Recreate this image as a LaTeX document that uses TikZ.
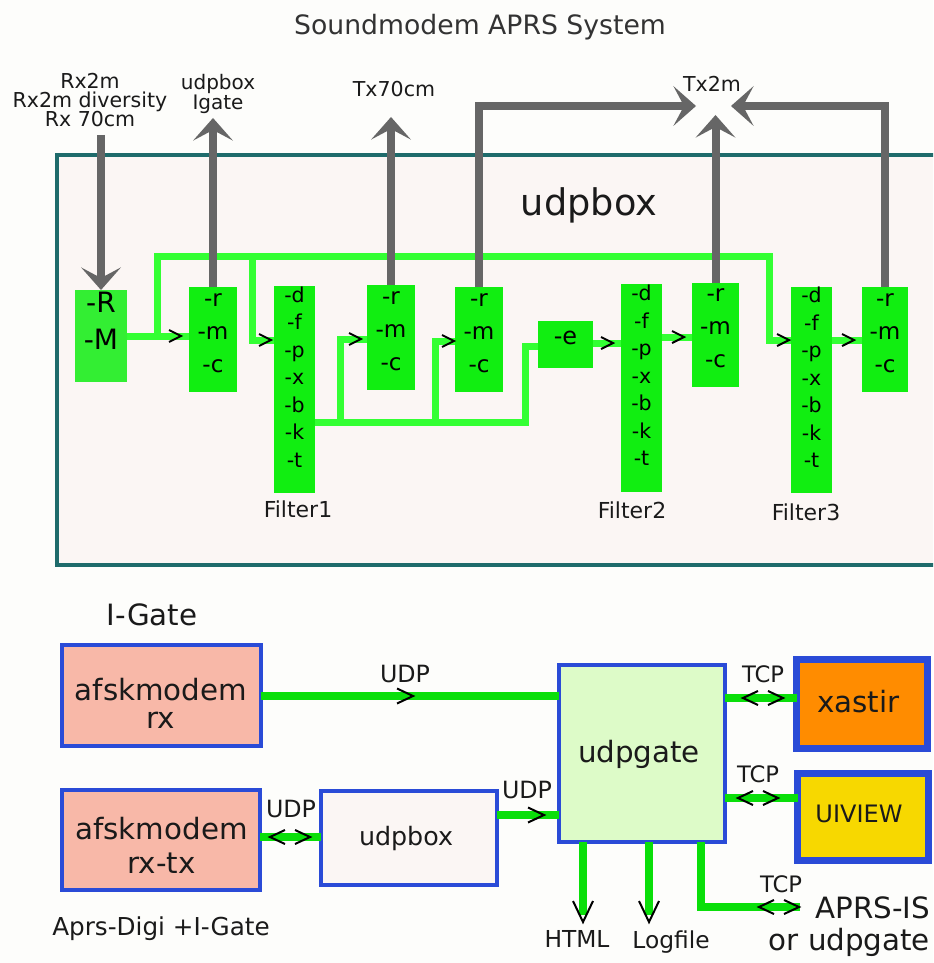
\documentclass[tikz,border=0pt]{standalone}
\usepackage{fontspec}
\setmainfont{DejaVu Sans}
\usetikzlibrary{arrows.meta,fit}
\definecolor{bgc}{HTML}{FDFDFB}
\definecolor{framefill}{HTML}{FBF6F4}
\definecolor{framedraw}{HTML}{1F6B6B}
\definecolor{lgreen}{HTML}{33FF33}
\definecolor{boxg}{HTML}{11EE11}
\definecolor{rmg}{HTML}{33EE33}
\definecolor{agray}{HTML}{666666}
\definecolor{bgreen}{HTML}{0ADF0A}
\definecolor{bblue}{HTML}{2A4BD7}
\definecolor{salmon}{HTML}{F8B8A8}
\definecolor{gatefill}{HTML}{DDFBC8}
\definecolor{xorange}{HTML}{FF8C00}
\definecolor{uiyellow}{HTML}{F7D800}
\definecolor{txt}{HTML}{1A1A1A}
\definecolor{ttl}{HTML}{333333}
\newcommand\fsz[2]{\fontsize{#1}{#2}\selectfont\lineskiplimit=-50pt\relax}
\newcommand\dn[1]{\rule[-#1]{0pt}{#1}}
\begin{document}
\begin{tikzpicture}[x=0.75pt,y=-0.75pt,
  lbl/.style={inner sep=0pt, outer sep=0pt, text=txt},
  tline/.style={draw=lgreen, line width=5.25pt, line join=miter},
  bline/.style={draw=bgreen, line width=6pt, line join=miter},
  chev/.style={draw=black, line width=1.5pt, line join=miter},
  garr/.style={draw=agray, line width=6pt, line join=miter, -{Stealth[length=17pt,width=30pt,inset=8pt,line width=0pt]}},
  gbox/.style={fill=boxg, inner sep=0pt, outer sep=0pt, align=center, text=black},
  wbox/.style={draw=bblue, line width=3.4pt, inner sep=0pt, outer sep=0pt},
  rmcbox/.style={gbox, font=\fsz{17.3}{24.75}},
  filtbox/.style={gbox, font=\fsz{15.4}{20.6}},
  chr/.pic={\draw[chev] (-6,-6) -- (6,0) -- (-6,6);},
  chrb/.pic={\draw[chev] (-8,-7.5) -- (8,0) -- (-8,7.5);},
  chlr/.pic={\draw[chev] (-5,-7) -- (-20,0) -- (-5,7); \draw[chev] (5,-7) -- (20,0) -- (5,7);},
  chv/.pic={\draw[chev] (-10,-21) -- (0,0) -- (10,-21);}
]
\fill[bgc] (0,0) rectangle (933,963);
\useasboundingbox (0,0) rectangle (933,963);

% ---------- udpbox frame ----------
\begin{scope}
\clip (0,0) rectangle (933,963);
\node[fit={(57,155) (945,565)}, draw=framedraw, fill=framefill, line width=3.4pt, inner sep=0pt, outer sep=0pt] (frame) {};
\end{scope}
\node[lbl, font=\fsz{27.5}{33}, anchor=base] (frametitle) at (589,215) {udpbox};

% ---------- top labels ----------
\node[lbl, font=\fsz{20}{24}, text=ttl, anchor=base] (title) at (480,35) {Soundmodem APRS System};
\node[lbl, font=\fsz{15.4}{13.9}, align=center] (rxlab) at (90,100) {Rx2m\\Rx2m diversity\\Rx 70cm};
\node[lbl, font=\fsz{15}{14.7}, align=center] (iglab) at (218,94) {udpbox\\Igate};
\node[lbl, font=\fsz{15.4}{18}, anchor=base] (tx70) at (394,97) {Tx70cm};
\node[lbl, font=\fsz{15.4}{18}, anchor=base] (tx2m) at (712,92) {Tx2m};

% ---------- green boxes ----------
\node[fit={(75,290) (127,382)}, gbox, fill=rmg, font=\fsz{21}{27.75}] (rm) {-R\\-M\dn{7.5pt}};
\node[fit={(189,287) (237,392)}, rmcbox] (rmc1) {-r\\-m\\-c};
\node[fit={(274,286) (315,493)}, filtbox] (f1) {-d\\-f\\-p\\-x\\-b\\-k\\-t\dn{7.2pt}};
\node[fit={(367,285) (415,390)}, rmcbox] (rmc2) {-r\\-m\\-c};
\node[fit={(455,287) (503,392)}, rmcbox] (rmc3) {-r\\-m\\-c};
\node[fit={(538,321) (593,368)}, gbox, font=\fsz{18}{21.6}] (ebox) {-e};
\node[fit={(621,284) (662,492)}, filtbox] (f2) {-d\\-f\\-p\\-x\\-b\\-k\\-t\dn{7.2pt}};
\node[fit={(692,283) (739,387)}, rmcbox] (rmc4) {-r\\-m\\-c};
\node[fit={(791,287) (832,493)}, filtbox] (f3) {-d\\-f\\-p\\-x\\-b\\-k\\-t\dn{7.2pt}};
\node[fit={(862,287) (908,392)}, rmcbox] (rmc5) {-r\\-m\\-c};

\node[lbl, font=\fsz{16.5}{20}, anchor=base] (fl1) at (298,517) {Filter1};
\node[lbl, font=\fsz{16.5}{20}, anchor=base] (fl2) at (632,518) {Filter2};
\node[lbl, font=\fsz{16.5}{20}, anchor=base] (fl3) at (806,520) {Filter3};

% ---------- green connectors (top) ----------
\coordinate (j1) at (157,256);
\coordinate (j2) at (252,256);
\coordinate (j3) at (769,256);
\coordinate (k2) at (252,340);
\coordinate (k3) at (769,340);
\coordinate (b1) at (340,422);
\coordinate (b2) at (435,422);
\coordinate (b3) at (525,422);
\coordinate (u1) at (340,339);
\coordinate (u2) at (435,341);
\coordinate (u3) at (525,346);
\coordinate (e1) at (0,343);
\coordinate (e2) at (0,337);
\coordinate (e3) at (0,340);
\draw[tline] (rm.east) -- (rm.east -| rmc1.west);
\draw[tline] (j1 |- rm.east) -- (j1) -- (j3) -- (k3) -- (k3 -| f3.west);
\draw[tline] (j2) -- (k2) -- (k2 -| f1.west);
\draw[tline] (f1.east |- b1) -- (b3) -- (u3) -- (u3 -| ebox.west);
\draw[tline] (b1) -- (u1) -- (u1 -| rmc2.west);
\draw[tline] (b2) -- (u2) -- (u2 -| rmc3.west);
\draw[tline] (ebox.east |- e1) -- (e1 -| f2.west);
\draw[tline] (f2.east |- e2) -- (e2 -| rmc4.west);
\draw[tline] (f3.east |- e3) -- (e3 -| rmc5.west);
\pic at (175,336) {chr};
\pic at (265,340) {chr};
\pic at (355,339) {chr};
\pic at (448,341) {chr};
\pic at (607,343) {chr};
\pic at (678,337) {chr};
\pic at (783,340) {chr};
\pic at (848,340) {chr};

% ---------- gray arrows ----------
\coordinate (rxtop) at (101,135);
\coordinate (t1) at (215,118);
\coordinate (t2) at (393,117);
\coordinate (t4) at (696,106);
\coordinate (t5) at (713,115);
\coordinate (t6) at (731,106);
\draw[garr] (rxtop) -- (rm.north);
\draw[garr] (rmc1.north) -- (rmc1.north |- t1);
\draw[garr] (rmc2.north) -- (rmc2.north |- t2);
\draw[garr] (rmc3.north) |- (t4);
\draw[garr] (rmc4.north) -- (rmc4.north |- t5);
\draw[garr] (rmc5.north) |- (t6);

% ---------- bottom: I-Gate ----------
\node[lbl, font=\fsz{22}{26}, anchor=base] (igate) at (152,625) {I-Gate};
\node[fit={(62,645) (261,746)}, wbox, fill=salmon] (afsk1) {};
\node[lbl, font=\fsz{22}{21}, align=center] (afsk1t) at (161,703) {afskmodem\\rx};
\node[fit={(62,790) (260,890)}, wbox, fill=salmon] (afsk2) {};
\node[lbl, font=\fsz{22}{25.5}, align=center] (afsk2t) at (161.5,845) {afskmodem\\rx-tx};
\node[lbl, font=\fsz{18.5}{22}, anchor=base] (digi) at (161,935) {Aprs-Digi +I-Gate};
\node[fit={(321,791) (497,885)}, wbox, line width=2.8pt, fill=framefill] (udpbox2) {};
\node[lbl, font=\fsz{19}{23}, anchor=base] (udpbox2t) at (406,845) {udpbox};
\node[fit={(559,665) (725,842)}, wbox, line width=2.8pt, fill=gatefill] (udpgate) {};
\node[lbl, font=\fsz{22}{26}, anchor=base] (udpgatet) at (639,762) {udpgate};
\node[fit={(796.5,659.5) (927.5,748.5)}, wbox, line width=5.25pt, fill=xorange] (xastir) {};
\node[lbl, font=\fsz{22}{26}, anchor=base] (xastirt) at (858.5,712) {xastir};
\node[fit={(797.5,773.5) (928.5,860.5)}, wbox, line width=5.25pt, fill=uiyellow] (uiview) {};
\node[lbl, font=\fsz{18}{22}, anchor=base] (uiviewt) at (859,822) {UIVIEW};

% ---------- bottom connectors ----------
\coordinate (l2) at (0,837);
\coordinate (l3) at (0,815);
\coordinate (l4) at (0,698);
\coordinate (l5) at (0,798);
\coordinate (d1) at (583,915);
\coordinate (d2) at (649,915);
\coordinate (d3) at (701,907);
\coordinate (d4) at (800,907);
\draw[bline] (afsk1.east) -- (afsk1.east -| udpgate.west);
\draw[bline] (afsk2.east |- l2) -- (l2 -| udpbox2.west);
\draw[bline] (udpbox2.east |- l3) -- (l3 -| udpgate.west);
\draw[bline] (udpgate.east |- l4) -- (l4 -| xastir.west);
\draw[bline] (udpgate.east |- l5) -- (l5 -| uiview.west);
\draw[bline] (udpgate.south -| d1) -- (d1);
\draw[bline] (udpgate.south -| d2) -- (d2);
\draw[bline] (udpgate.south -| d3) -- (d3) -- (d4);
\pic at (405,696) {chrb};
\pic at (290,837) {chlr};
\pic at (536,815) {chrb};
\pic at (763,698) {chlr};
\pic at (758,798) {chlr};
\pic at (583,922) {chv};
\pic at (649,922) {chv};
\pic at (779,907) {chlr};

\node[lbl, font=\fsz{17.8}{21}, anchor=base] (udp1) at (405,682) {UDP};
\node[lbl, font=\fsz{17.8}{21}, anchor=base] (udp2) at (291,817) {UDP};
\node[lbl, font=\fsz{17.8}{21}, anchor=base] (udp3) at (527,798) {UDP};
\node[lbl, font=\fsz{17}{20}, anchor=base] (tcp1) at (763,682) {TCP};
\node[lbl, font=\fsz{17}{20}, anchor=base] (tcp2) at (758,782) {TCP};
\node[lbl, font=\fsz{17}{20}, anchor=base] (tcp3) at (781,892) {TCP};
\node[lbl, font=\fsz{17.5}{21}, anchor=base] (html) at (577,947) {HTML};
\node[lbl, font=\fsz{17.5}{21}, anchor=base] (logf) at (671,948) {Logfile};
\node[lbl, font=\fsz{22}{24}, align=right, anchor=east] (aprs) at (930,927) {APRS-IS\\or udpgate};
\end{tikzpicture}
\end{document}
